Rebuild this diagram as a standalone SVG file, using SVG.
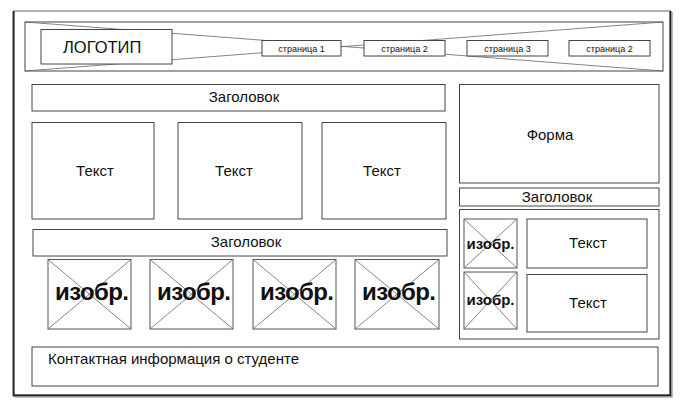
<svg xmlns="http://www.w3.org/2000/svg" width="681" height="405" viewBox="0 0 681 405">
<style>
.box{fill:#fff;stroke:#444;stroke-width:1}
.img{fill:#fff;stroke:#555;stroke-width:1}
.x{stroke:#666;stroke-width:0.8;fill:none}
.t{font-family:"Liberation Sans",Arial,sans-serif;fill:#111}
.big{font-size:15px}
.sm{font-size:9px}
.ib{font-size:24px;font-weight:bold;text-anchor:middle}
.is{font-size:15px;font-weight:bold;text-anchor:middle}
.c{text-anchor:middle}
</style>
<rect x="0" y="0" width="681" height="405" fill="#fff"/>
<g id="frame">
<rect x="14" y="11" width="656" height="384" fill="#fff" stroke="#999" stroke-width="1.5"/>
<path d="M13.5 11 V395.5 H670.5 V11" fill="none" stroke="#222" stroke-width="1.8"/>
<path d="M15 397 H672 V12" fill="none" stroke="#888" stroke-width="1.2"/>
</g>
<g id="header">
<rect class="box" x="25" y="22" width="638" height="49"/>
<g id="connectors">
<line class="x" x1="25" y1="22" x2="663" y2="71"/>
<line class="x" x1="25" y1="71" x2="663" y2="22"/>
</g>
<g id="logo"><rect class="box" x="41" y="29.5" width="131" height="34.5"/><text class="t" x="63" y="52.5" font-size="16.5">ЛОГОТИП</text></g>
<g id="page1"><rect class="box" x="262" y="40.5" width="79" height="15.5"/><text class="t sm c" x="301.5" y="51.5">страница 1</text></g>
<g id="page2"><rect class="box" x="364" y="40.5" width="81" height="15.5"/><text class="t sm c" x="404.5" y="51.5">страница 2</text></g>
<g id="page3"><rect class="box" x="467" y="40.5" width="81" height="15.5"/><text class="t sm c" x="507.5" y="51.5">страница 3</text></g>
<g id="page4"><rect class="box" x="569" y="40.5" width="81" height="15.5"/><text class="t sm c" x="609.5" y="51.5">страница 2</text></g>
</g>
<g id="heading1"><rect class="box" x="32" y="84.5" width="413" height="26.5"/><text class="t big c" x="244" y="102">Заголовок</text></g>
<g id="text1"><rect class="box" x="32" y="122.5" width="122" height="96.5"/><text class="t big c" x="95" y="175.5" font-size="16">Текст</text></g>
<g id="text2"><rect class="box" x="178" y="122.5" width="124" height="96.5"/><text class="t big c" x="234" y="175.5" font-size="16">Текст</text></g>
<g id="text3"><rect class="box" x="322" y="122.5" width="124" height="96.5"/><text class="t big c" x="382" y="175.5" font-size="16">Текст</text></g>
<g id="form"><rect class="box" x="459.5" y="84.5" width="199.5" height="98.5"/><text class="t big c" x="550" y="140" font-size="16">Форма</text></g>
<g id="heading2"><rect class="box" x="459.5" y="188" width="199.5" height="18"/><text class="t big c" x="557" y="202">Заголовок</text></g>
<g id="sidebar">
<rect class="box" x="459.5" y="209.5" width="199.5" height="129.5"/>
<g id="simg1"><rect class="img" x="464" y="219" width="53" height="49"/><path class="x" d="M464 219 L517 268 M517 219 L464 268"/><text class="t is" x="490.5" y="249">изобр.</text></g>
<g id="simg2"><rect class="img" x="464" y="272" width="53" height="57"/><path class="x" d="M464 272 L517 329 M517 272 L464 329"/><text class="t is" x="490.5" y="305">изобр.</text></g>
<g id="stext1"><rect class="box" x="527" y="219" width="120" height="49"/><text class="t big c" x="588" y="248" font-size="16">Текст</text></g>
<g id="stext2"><rect class="box" x="527" y="274.5" width="120" height="57.5"/><text class="t big c" x="588" y="308" font-size="16">Текст</text></g>
</g>
<g id="heading3"><rect class="box" x="33" y="229.5" width="414" height="26.5"/><text class="t big c" x="246" y="247">Заголовок</text></g>
<g id="img1"><rect class="img" x="48" y="259.5" width="83" height="69.5"/><path class="x" d="M48 259.5 L131 329 M131 259.5 L48 329"/><text class="t ib" x="92" y="300" textLength="74">изобр.</text></g>
<g id="img2"><rect class="img" x="150" y="259.5" width="83" height="69.5"/><path class="x" d="M150 259.5 L233 329 M233 259.5 L150 329"/><text class="t ib" x="194" y="300" textLength="74">изобр.</text></g>
<g id="img3"><rect class="img" x="253" y="259.5" width="83" height="69.5"/><path class="x" d="M253 259.5 L336 329 M336 259.5 L253 329"/><text class="t ib" x="297" y="300" textLength="74">изобр.</text></g>
<g id="img4"><rect class="img" x="355" y="259.5" width="84" height="69.5"/><path class="x" d="M355 259.5 L439 329 M439 259.5 L355 329"/><text class="t ib" x="399" y="300" textLength="74">изобр.</text></g>
<g id="contact"><rect class="box" x="32" y="347" width="626" height="39"/><text class="t big" x="48" y="364">Контактная информация о студенте</text></g>
</svg>
